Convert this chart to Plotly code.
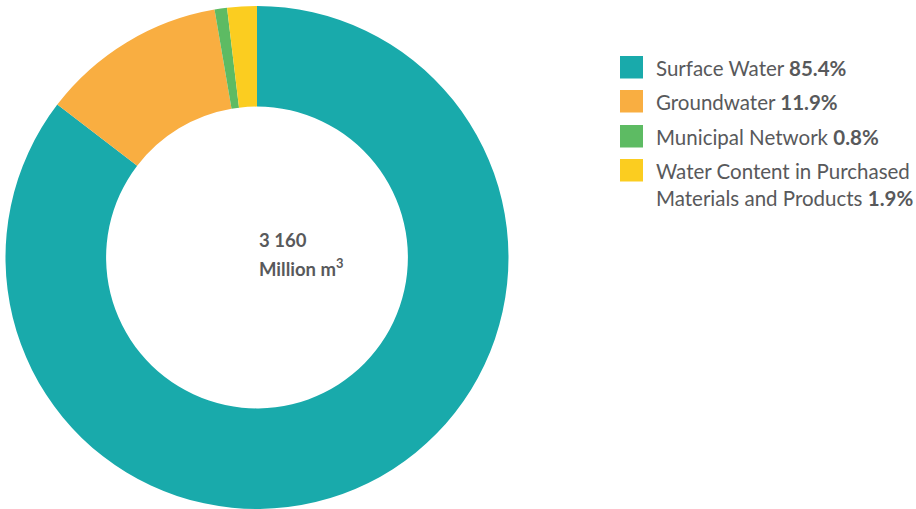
import plotly.graph_objects as go

# ── Data ──────────────────────────────────────────────────────────────────────
labels = ["Surface Water", "Groundwater", "Municipal Network",
          "Water Content in Purchased<br>Materials and Products"]
shares = [85.4, 11.9, 0.8, 1.9]
colors = ["#19AAAB", "#F9AE41", "#5DBB63", "#FBCD20"]
total_text = "3 160"
unit_text = "Million m<sup>3</sup>"

TEXT_COLOR = "#58595B"
FONT = "Lato, Noto Sans, sans-serif"

W, H = 916, 509

fig = go.Figure()

fig.add_trace(go.Pie(
    labels=labels, values=shares,
    marker=dict(colors=colors, line=dict(width=0)),
    hole=0.6,
    sort=False, direction="clockwise", rotation=0,
    textinfo="none", hoverinfo="label+percent",
    showlegend=False,
    domain=dict(x=[5.5 / W, 508.5 / W], y=[0, 1 - 6 / H]),
))

# centre label
fig.add_annotation(
    x=257 / W, y=1 - 240 / H, xref="paper", yref="paper", yanchor="middle",
    text=f"<b>{total_text}</b>", showarrow=False,
    font=dict(family=FONT, size=18.5, color=TEXT_COLOR),
)
fig.add_annotation(
    x=257 / W, y=1 - 267 / H, xref="paper", yref="paper", yanchor="middle",
    text=f"<b>{unit_text}</b>", showarrow=False,
    font=dict(family=FONT, size=18.5, color=TEXT_COLOR),
)

# custom legend: big squares + text
sq_top = [56, 90, 125, 159]
for i, (lab, val, col) in enumerate(zip(labels, shares, colors)):
    y0 = sq_top[i]
    fig.add_shape(type="rect", xref="paper", yref="paper",
                  x0=620 / W, x1=643 / W, y0=1 - y0 / H, y1=1 - (y0 + 22.5) / H,
                  fillcolor=col, line=dict(width=0))
    fig.add_annotation(
        x=654 / W, y=1 - (y0 - 2) / H, xref="paper", yref="paper",
        xanchor="left", yanchor="top", align="left", showarrow=False,
        text=f"{lab} <b>{val}%</b>",
        font=dict(family=FONT, size=20.5, color=TEXT_COLOR),
    )

fig.update_layout(
    width=W, height=H,
    margin=dict(l=0, r=0, t=0, b=0),
    paper_bgcolor="white", plot_bgcolor="white",
)

fig.write_html("out.html", config={"displayModeBar": False},
               post_script="document.body.style.margin='0';")
